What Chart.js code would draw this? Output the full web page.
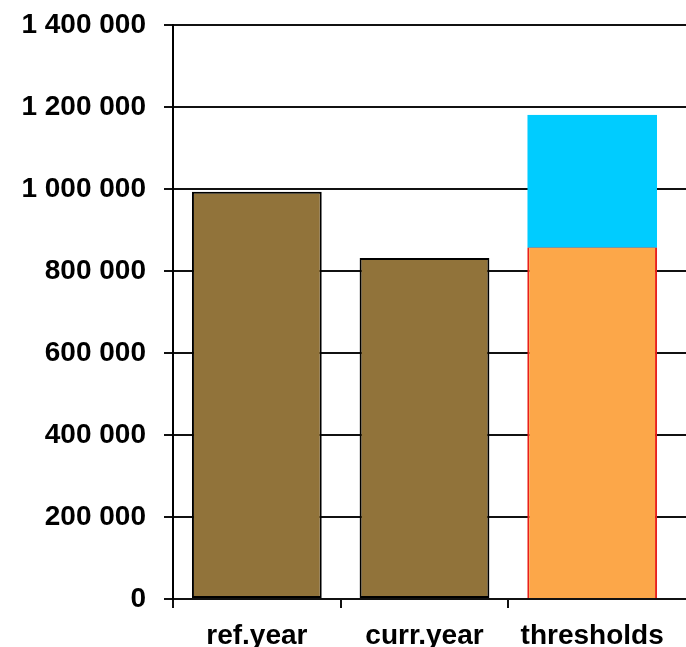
<!DOCTYPE html>
<html>
<head>
<meta charset="utf-8">
<script src="https://cdn.jsdelivr.net/npm/chart.js@4.4.1/dist/chart.umd.min.js"></script>
<style>
  html, body { margin: 0; padding: 0; background: #fff; overflow: hidden; }
  #wrap { width: 686px; height: 647px; position: relative; }
</style>
</head>
<body>
<div id="wrap"><canvas id="thresholdChart"></canvas></div>
<script>
const categories = ["ref.year", "curr.year", "thresholds"];
const yearValues = [993000, 832000, null];
const lowerThreshold = [null, null, 856000];
const upperThresholdExtra = [null, null, 325000];
const yTicks = [0, 200000, 400000, 600000, 800000, 1000000, 1200000, 1400000];

const fmt = (v) => String(v).replace(/\B(?=(\d{3})+(?!\d))/g, " ");

// gridlines run on past the last category to the right edge of the picture
const extendGrid = {
  id: "extendGrid",
  beforeDatasetsDraw(chart) {
    const { ctx, chartArea, scales } = chart;
    ctx.save();
    ctx.strokeStyle = "#111";
    ctx.lineWidth = 2;
    yTicks.forEach((t) => {
      const y = Math.round(scales.y.getPixelForValue(t));
      ctx.beginPath();
      ctx.moveTo(chartArea.right, y);
      ctx.lineTo(chart.width, y);
      ctx.stroke();
    });
    ctx.restore();
  },
};

const labelFont = { family: "'Liberation Sans', Arial, sans-serif", size: 28, weight: "bold" };

const ctx = document.getElementById("thresholdChart").getContext("2d");
new Chart(ctx, {
  type: "bar",
  data: {
    labels: categories,
    datasets: [
      {
        label: "years",
        data: yearValues,
        backgroundColor: "#91733A",
        borderColor: "#000",
        borderWidth: 2,
        borderSkipped: false,
      },
      {
        label: "lower threshold",
        data: lowerThreshold,
        backgroundColor: "#FCA749",
        borderColor: "#E8201A",
        borderWidth: { left: 2, right: 2, top: 0, bottom: 0 },
        borderSkipped: false,
      },
      {
        label: "upper threshold",
        data: upperThresholdExtra,
        backgroundColor: "#00CCFF",
        borderColor: "#6C9AAE",
        borderWidth: { left: 0, right: 0, top: 0, bottom: 1 },
        borderSkipped: false,
      },
    ],
  },
  options: {
    responsive: true,
    maintainAspectRatio: false,
    animation: false,
    categoryPercentage: 1,
    barPercentage: 0.774,
    layout: { padding: { top: 25, right: 10, left: 0, bottom: 0 } },
    plugins: {
      legend: { display: false },
      tooltip: { enabled: false },
    },
    scales: {
      x: {
        stacked: true,
        grid: {
          offset: true,
          drawOnChartArea: false,
          tickLength: 9,
          lineWidth: 2,
          color: (c) => (c.type === "tick" ? "#111" : "rgba(0,0,0,0)"),
        },
        border: { color: "#111", width: 2 },
        ticks: { color: "#000", padding: 11, font: labelFont },
        afterFit: (scale) => { scale.height = 48; },
      },
      y: {
        stacked: true,
        min: 0,
        max: 1400000,
        afterBuildTicks: (scale) => { scale.ticks = yTicks.map((v) => ({ value: v })); },
        grid: { color: "#111", lineWidth: 2, tickLength: 9 },
        border: { color: "#000", width: 2 },
        ticks: { color: "#000", padding: 18, callback: (v) => fmt(v), font: labelFont },
        afterFit: (scale) => {
          scale.width = 173;
          scale.paddingTop = 0;
          scale.paddingBottom = 0;
        },
      },
    },
  },
  plugins: [extendGrid],
});
</script>
</body>
</html>
